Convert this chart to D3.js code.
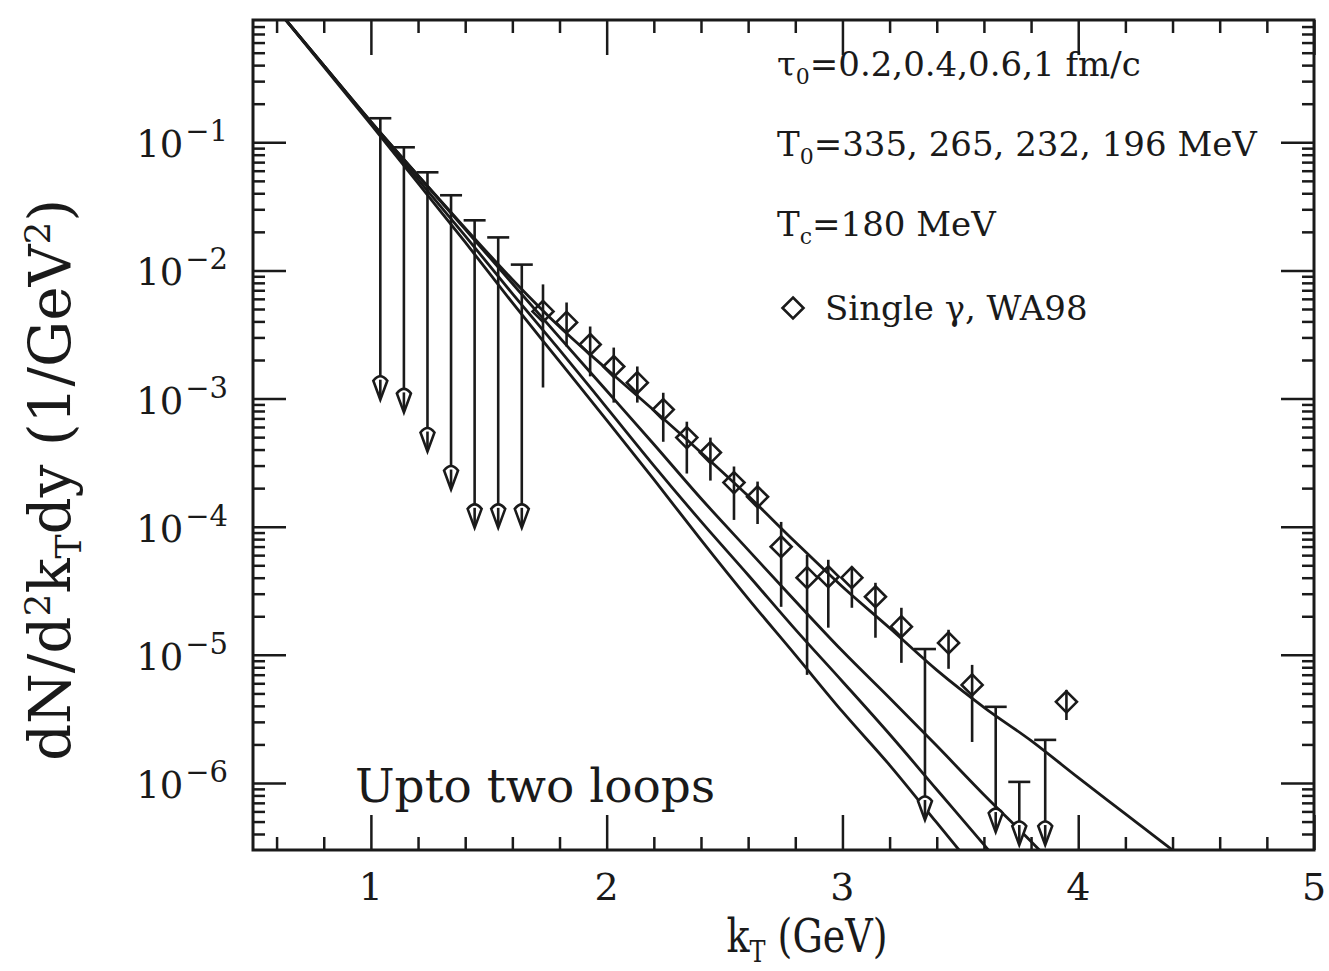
<!DOCTYPE html>
<html>
<head>
<meta charset="utf-8">
<script src="https://cdn.jsdelivr.net/npm/d3@7"></script>
<style>
  body { margin: 0; background: #fff; }
  text { fill: #1a1a1a; }
</style>
</head>
<body>
<svg id="chart" width="1329" height="971"></svg>
<script>
// kT grid of the four model curves (GeV)
var kGrid = [0.6, 0.8, 1.0, 1.2, 1.4, 1.6, 1.8, 2.0, 2.2, 2.4, 2.6, 2.8, 3.0, 3.2, 3.4, 3.6, 3.8, 4.0, 4.2, 4.4, 4.6]
// yields for tau0 = 0.2, 0.4, 0.6, 1 fm/c  (1/GeV^2)
var curveA = [1.10, 0.398, 0.145, 0.055, 0.0214, 8.5e-3, 3.63e-3, 1.70e-3, 8.1e-4, 3.8e-4, 1.74e-4, 7.6e-5, 3.4e-5, 1.62e-5, 7.6e-6, 3.9e-6, 2.14e-6, 1.10e-6, 5.75e-7, 3.0e-7, 1.6e-7]
var curveB = [1.10, 0.398, 0.145, 0.055, 0.0209, 7.9e-3, 3.0e-3, 1.15e-3, 4.4e-4, 1.66e-4, 6.6e-5, 2.63e-5, 1.07e-5, 4.6e-6, 1.95e-6, 8.1e-7, 3.5e-7, 1.45e-7]
var curveC = [1.10, 0.398, 0.141, 0.0513, 0.0186, 6.6e-3, 2.4e-3, 8.5e-4, 3.0e-4, 1.10e-4, 4.2e-5, 1.58e-5, 6.2e-6, 2.4e-6, 8.9e-7, 3.3e-7, 1.2e-7]
var curveD = [1.10, 0.389, 0.138, 0.0479, 0.0166, 5.6e-3, 1.95e-3, 6.8e-4, 2.34e-4, 7.9e-5, 2.75e-5, 1.0e-5, 3.6e-6, 1.38e-6, 4.9e-7, 1.74e-7]

// WA98 single photons
var ptX  = [1.73, 1.83, 1.93, 2.03, 2.13, 2.24, 2.34, 2.44, 2.54, 2.64, 2.74, 2.85, 2.94, 3.04, 3.14, 3.25, 3.45, 3.55, 3.95]
var ptY  = [4.79e-3, 3.93e-3, 2.64e-3, 1.78e-3, 1.33e-3, 8.2e-4, 4.96e-4, 3.79e-4, 2.21e-4, 1.71e-4, 6.98e-5, 4.0e-5, 4.07e-5, 4.0e-5, 2.84e-5, 1.66e-5, 1.24e-5, 5.83e-6, 4.30e-6]
var ptHi = [7.78e-3, 5.62e-3, 3.65e-3, 2.50e-3, 1.78e-3, 1.11e-3, 6.6e-4, 4.96e-4, 2.95e-4, 2.25e-4, 1.09e-4, 6.04e-5, 5.52e-5, 4.87e-5, 3.65e-5, 2.33e-5, 1.57e-5, 8.35e-6, 5.33e-6]
var ptLo = [1.22e-3, 2.55e-3, 1.49e-3, 9.3e-4, 9.3e-4, 4.6e-4, 2.6e-4, 2.29e-4, 1.13e-4, 1.05e-4, 2.37e-5, 6.98e-6, 1.63e-5, 2.33e-5, 1.36e-5, 8.66e-6, 7.78e-6, 2.09e-6, 3.10e-6]

// upper limits: cap value and arrow tip
var ulX   = [1.04, 1.14, 1.24, 1.34, 1.44, 1.54, 1.64, 3.35, 3.65, 3.75, 3.86]
var ulTop = [0.154, 0.0914, 0.0583, 0.0386, 0.0246, 0.0181, 0.0111, 1.11e-5, 3.93e-6, 1.02e-6, 2.17e-6]
var ulTip = [9.8e-4, 7.8e-4, 3.86e-4, 1.95e-4, 9.8e-5, 9.8e-5, 9.8e-5, 5.14e-7, 4.14e-7, 3.28e-7, 3.28e-7]

var xTicks = [1, 2, 3, 4, 5]
var yTicks = [1e-1, 1e-2, 1e-3, 1e-4, 1e-5, 1e-6]

var ink = '#1a1a1a'
var svg = d3.select('#chart')
svg.append('rect').attr('width', 1329).attr('height', 971).attr('fill', '#fff')

var pL = 253, pR = 1314, pT = 20, pB = 850
var x = d3.scaleLinear().domain([0.5, 5]).range([pL, pR])
var y = d3.scaleLog().domain([3e-7, 0.9]).range([pB, pT])

// minor tick values
var xMinor = d3.range(0.6, 5.0, 0.2).filter(function (d) { return Math.abs(d - Math.round(d)) > 0.05 })
var yMinor = []
for (var e = -7; e <= 0; e++) {
  for (var m = 2; m <= 9; m++) {
    var v = m * Math.pow(10, e)
    if (v > 3e-7 && v < 0.9) yMinor.push(v)
  }
}

function drawAxis(gen, tx, ty, vals, size) {
  var g = svg.append('g').attr('transform', 'translate(' + tx + ',' + ty + ')')
    .call(gen.tickValues(vals).tickSize(size).tickFormat(''))
  g.select('.domain').remove()
  g.selectAll('line').attr('stroke', ink).attr('stroke-width', 2.5)
}
drawAxis(d3.axisBottom(x), 0, pB, xTicks, -35)
drawAxis(d3.axisBottom(x), 0, pB, xMinor, -13)
drawAxis(d3.axisTop(x), 0, pT, xTicks, -35)
drawAxis(d3.axisTop(x), 0, pT, xMinor, -13)
drawAxis(d3.axisLeft(y), pL, 0, yTicks, -33)
drawAxis(d3.axisLeft(y), pL, 0, yMinor, -12)
drawAxis(d3.axisRight(y), pR, 0, yTicks, -33)
drawAxis(d3.axisRight(y), pR, 0, yMinor, -12)

// frame
svg.append('rect')
  .attr('x', pL).attr('y', pT).attr('width', pR - pL).attr('height', pB - pT)
  .attr('fill', 'none').attr('stroke', ink).attr('stroke-width', 3)

// tick labels
svg.selectAll('.xlab').data(xTicks).enter().append('text')
  .attr('x', function (d) { return x(d) }).attr('y', 900)
  .attr('text-anchor', 'middle')
  .style('font-family', 'DejaVu Serif').style('font-size', '38px')
  .text(function (d) { return d })

var ylab = svg.selectAll('.ylab').data(yTicks).enter().append('text')
  .attr('x', 228).attr('y', function (d) { return y(d) + 15 })
  .attr('text-anchor', 'end')
  .style('font-family', 'DejaVu Serif').style('font-size', '37px')
ylab.append('tspan').text('10')
ylab.append('tspan').attr('dy', -16).attr('dx', 2).style('font-size', '29px')
  .text(function (d) { return '\u2212' + Math.round(-Math.log10(d)) })

// clip region
svg.append('clipPath').attr('id', 'clip').append('rect')
  .attr('x', pL).attr('y', pT).attr('width', pR - pL).attr('height', pB - pT)
var plot = svg.append('g').attr('clip-path', 'url(#clip)')

var line = d3.line()
  .x(function (d, i) { return x(kGrid[i]) })
  .y(function (d) { return y(d) })
  .curve(d3.curveMonotoneX)

;[curveA, curveB, curveC, curveD].forEach(function (c) {
  plot.append('path').attr('d', line(c))
    .attr('fill', 'none').attr('stroke', ink).attr('stroke-width', 2.8)
})

// data error bars and diamonds
var diamond = 'M0,-10.5L10.5,0L0,10.5L-10.5,0Z'
ptX.forEach(function (k, i) {
  plot.append('line')
    .attr('x1', x(k)).attr('x2', x(k)).attr('y1', y(ptHi[i])).attr('y2', y(ptLo[i]))
    .attr('stroke', ink).attr('stroke-width', 2.6)
  plot.append('path').attr('d', diamond)
    .attr('transform', 'translate(' + x(k) + ',' + y(ptY[i]) + ')')
    .attr('fill', 'none').attr('stroke', ink).attr('stroke-width', 2.6)
})

// upper limits
ulX.forEach(function (k, i) {
  var cx = x(k), y0 = y(ulTop[i]), y1 = y(ulTip[i])
  plot.append('line').attr('x1', cx - 11).attr('x2', cx + 11).attr('y1', y0).attr('y2', y0)
    .attr('stroke', ink).attr('stroke-width', 2.6)
  plot.append('line').attr('x1', cx).attr('x2', cx).attr('y1', y0).attr('y2', y1 - 4)
    .attr('stroke', ink).attr('stroke-width', 2.6)
  plot.append('path').attr('d', 'M0,0L-7,-19Q0,-28 7,-19Z')
    .attr('transform', 'translate(' + cx + ',' + y1 + ')')
    .attr('fill', '#fff').attr('stroke', ink).attr('stroke-width', 2.6)
  plot.append('line').attr('x1', cx).attr('x2', cx).attr('y1', y1 - 20).attr('y2', y1 - 3)
    .attr('stroke', ink).attr('stroke-width', 2.6)
})

// legend
var lg = svg.append('g').style('font-family', 'DejaVu Serif').style('font-size', '34px')
var t1 = lg.append('text').attr('x', 777).attr('y', 76)
t1.append('tspan').text('\u03c4')
t1.append('tspan').attr('dy', 8).style('font-size', '22px').text('0')
t1.append('tspan').attr('dy', -8).text('=0.2,0.4,0.6,1 fm/c')
var t2 = lg.append('text').attr('x', 777).attr('y', 156)
t2.append('tspan').text('T')
t2.append('tspan').attr('dy', 8).style('font-size', '22px').text('0')
t2.append('tspan').attr('dy', -8).text('=335, 265, 232, 196 MeV')
var t3 = lg.append('text').attr('x', 777).attr('y', 236)
t3.append('tspan').text('T')
t3.append('tspan').attr('dy', 8).style('font-size', '22px').text('c')
t3.append('tspan').attr('dy', -8).text('=180 MeV')
lg.append('path').attr('d', diamond).attr('transform', 'translate(793,308)')
  .attr('fill', 'none').attr('stroke', ink).attr('stroke-width', 2.6)
lg.append('text').attr('x', 825).attr('y', 320).text('Single \u03b3, WA98')

svg.append('text').attr('x', 355).attr('y', 802)
  .style('font-family', 'DejaVu Serif').style('font-size', '47px')
  .text('Upto two loops')

// axis titles
var xt = svg.append('g').attr('transform', 'translate(807,952) scale(1,1.25)')
  .append('text').attr('text-anchor', 'middle')
  .style('font-family', 'DejaVu Serif').style('font-size', '38px')
xt.append('tspan').text('k')
xt.append('tspan').attr('dy', 8).style('font-size', '24px').text('T')
xt.append('tspan').attr('dy', -8).text(' (GeV)')

var yt = svg.append('text').attr('transform', 'translate(70,480) rotate(-90)')
  .attr('text-anchor', 'middle')
  .style('font-family', 'DejaVu Serif').style('font-size', '58px')
yt.append('tspan').text('dN/d')
yt.append('tspan').attr('dy', -20).style('font-size', '36px').text('2')
yt.append('tspan').attr('dy', 20).text('k')
yt.append('tspan').attr('dy', 11).style('font-size', '36px').text('T')
yt.append('tspan').attr('dy', -11).text('dy (1/GeV')
yt.append('tspan').attr('dy', -20).style('font-size', '36px').text('2')
yt.append('tspan').attr('dy', 20).text(')')
</script>
</body>
</html>
